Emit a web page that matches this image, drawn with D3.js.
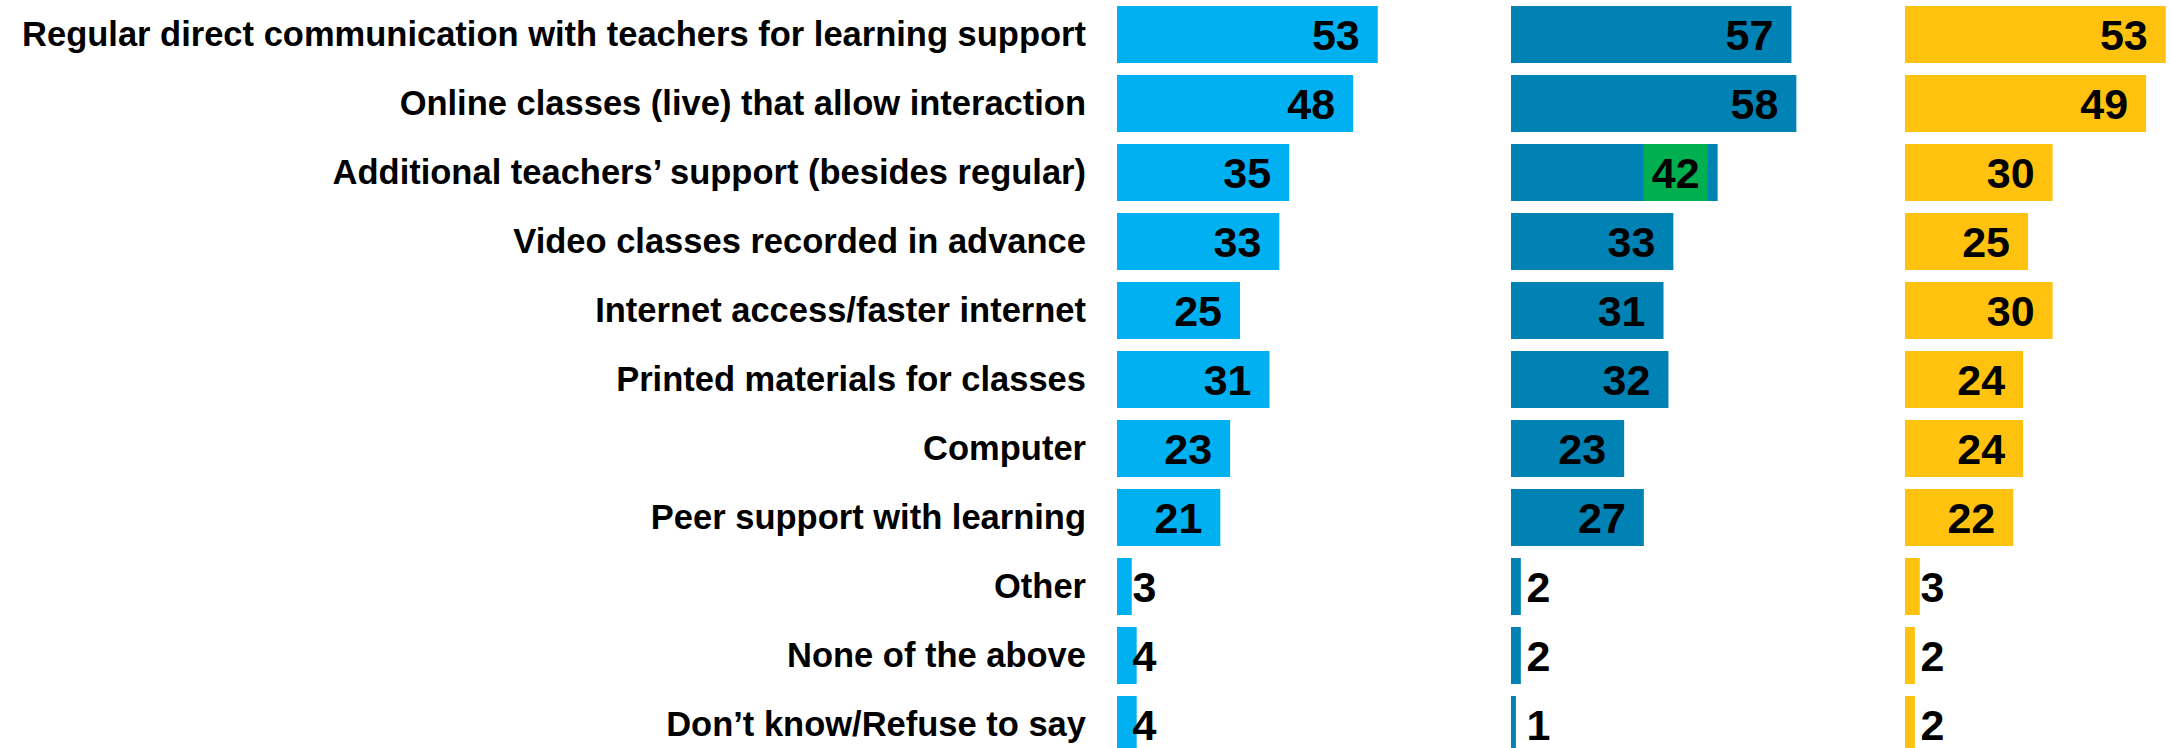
<!DOCTYPE html>
<html>
<head>
<meta charset="utf-8">
<script src="https://cdn.jsdelivr.net/npm/d3@7"></script>
<style>
  html, body { margin: 0; padding: 0; background: #fff; }
  svg text { font-family: "Liberation Sans", Arial, sans-serif; font-weight: bold; fill: #000; }
</style>
</head>
<body>
<div id="chart"></div>
<script>
// categories, top to bottom
const categories = [
    "Regular direct communication with teachers for learning support",
    "Online classes (live) that allow interaction",
    "Additional teachers’ support (besides regular)",
    "Video classes recorded in advance",
    "Internet access/faster internet",
    "Printed materials for classes",
    "Computer",
    "Peer support with learning",
    "Other",
    "None of the above",
    "Don’t know/Refuse to say"
];

// one series per panel
const series1 = [53, 48, 35, 33, 25, 31, 23, 21, 3, 4, 4];
const series2 = [57, 58, 42, 33, 31, 32, 23, 27, 2, 2, 1];
const series3 = [53, 49, 30, 25, 30, 24, 24, 22, 3, 2, 2];

const panelColors = ["#00b0f0", "#0083b4", "#ffc20e"];
const highlightColor = "#00b050";
// label highlighted with a green box: [panel index, category]
const highlights = [[1, "Additional teachers’ support (besides regular)"]];

const width = 2170, height = 748;
const panelX = [1117, 1511, 1905]; // left edge of each panel

const svg = d3.select("#chart")
    .append("svg")
    .attr("width", width)
    .attr("height", height);

// rows
const y = d3.scaleBand()
    .domain(categories)
    .range([0, 759])
    .paddingInner(0.174)
    .paddingOuter(0.087);

// shared value scale for all panels
const x = d3.scaleLinear()
    .domain([0, 100])
    .range([0, 492]);

// category labels
svg.append("g")
    .selectAll("text")
    .data(categories)
    .join("text")
    .attr("x", 1086)
    .attr("y", d => y(d) + y.bandwidth() / 2 + 11.5)
    .attr("text-anchor", "end")
    .style("font-size", "34.5px")
    .text(d => d);

[series1, series2, series3].forEach((values, p) => {
    const data = categories.map((c, i) => ({ cat: c, value: values[i] }));
    const g = svg.append("g")
        .attr("transform", `translate(${panelX[p]},0)`);

    g.selectAll("rect.bar")
        .data(data)
        .join("rect")
        .attr("class", "bar")
        .attr("x", 0)
        .attr("y", d => y(d.cat))
        .attr("width", d => x(d.value))
        .attr("height", y.bandwidth())
        .attr("fill", panelColors[p]);

    // value labels: inside end for big bars, just past the base for small ones
    const labels = g.selectAll("text.val")
        .data(data)
        .join("text")
        .attr("class", "val")
        .attr("x", d => d.value >= 10 ? x(d.value) - 18 : 15.5)
        .attr("y", d => y(d.cat) + y.bandwidth() / 2 + 15.5)
        .attr("text-anchor", d => d.value >= 10 ? "end" : "start")
        .style("font-size", "43px")
        .text(d => d.value);

    // green box behind highlighted labels
    labels.each(function(d) {
        const hit = highlights.some(h => h[0] === p && h[1] === d.cat);
        if (!hit) return;
        const bb = this.getBBox();
        g.insert("rect", "text.val")
            .attr("x", bb.x - 8)
            .attr("y", y(d.cat))
            .attr("width", bb.width + 16)
            .attr("height", y.bandwidth())
            .attr("fill", highlightColor);
    });
});
</script>
</body>
</html>
